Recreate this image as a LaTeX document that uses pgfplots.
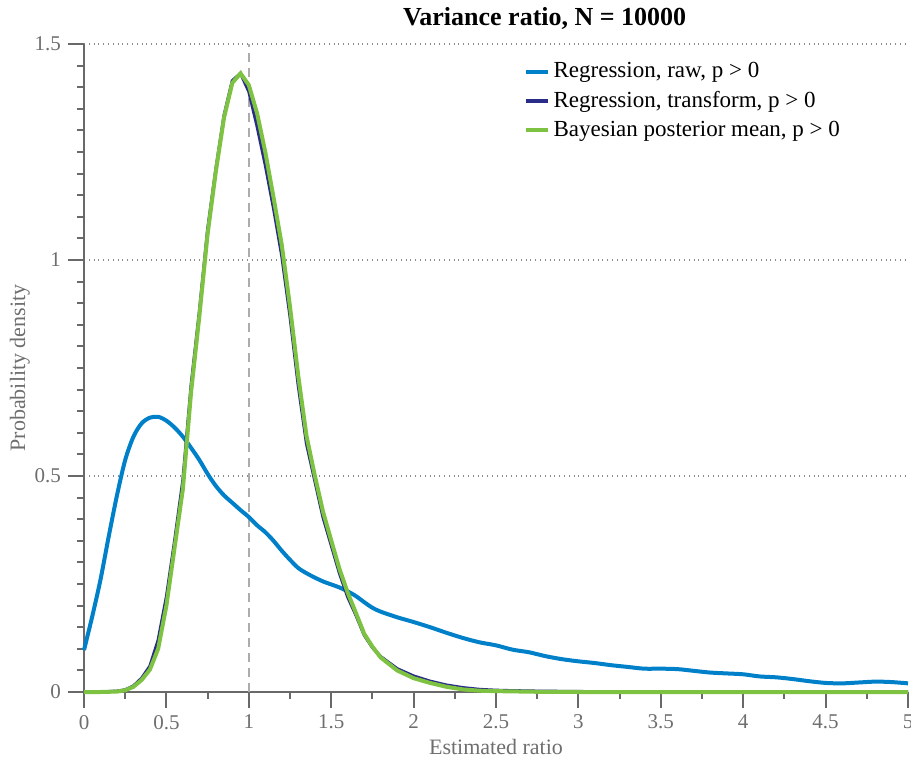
\documentclass[border=0pt]{standalone}
\usepackage{fontspec}
\setmainfont{Liberation Serif}
\usepackage{pgfplots}
\pgfplotsset{compat=1.18}
\usetikzlibrary{calc}
\definecolor{rawblue}{RGB}{0,128,200}
\definecolor{trnavy}{RGB}{42,45,135}
\definecolor{bayesgreen}{RGB}{125,194,64}
\definecolor{axgray}{RGB}{105,105,105}
\definecolor{txtgray}{RGB}{110,110,110}
\begin{document}
\begin{tikzpicture}
\begin{axis}[name=ax, scale only axis, width=412pt, height=324pt,
  xmin=0, xmax=5, ymin=0, ymax=1.5, clip=false,
  axis lines*=left,
  axis line style={axgray, line width=1pt},
  xtick={0,0.5,1,1.5,2,2.5,3,3.5,4,4.5,5},
  xticklabels={0,0.5,1,1.5,2,2.5,3,3.5,4,4.5,5},
  ytick={0,0.5,1,1.5},
  yticklabels={0,0.5,1,1.5},
  minor x tick num=1, minor y tick num=9,
  tick align=outside, major tick length=8pt, minor tick length=3.5pt,
  every tick/.style={axgray, line width=1pt},
  ymajorgrids, grid style={dotted, black!45, line width=0.6pt},
  tick label style={font=\fontsize{10.5}{12}\selectfont, text=txtgray},
  xlabel={Estimated ratio}, ylabel={Probability density},
  label style={font=\fontsize{11}{13}\selectfont, text=txtgray},
  xlabel style={at={(axis description cs:0.5,-0.0849)}, anchor=center},
  ylabel style={at={(axis description cs:-0.0777,0.5)}, anchor=center},
  legend style={draw=none, fill=none, at={(axis description cs:0.533,0.978)}, anchor=north west,
    font=\fontsize{11.5}{13}\selectfont, row sep=1.2pt, inner sep=0pt},
  legend cell align=left,
  legend image code/.code={\draw[#1] (0pt,0pt) -- (11pt,0pt);},
]
\addplot[gray!65, line width=1pt, dash pattern=on 4.5pt off 3pt, forget plot] coordinates {(1,0) (1,1.5)};
\addplot[rawblue, line width=2pt, smooth] coordinates {
(0,0.097) (0.05,0.175) (0.1,0.26) (0.15,0.36) (0.2,0.455) (0.25,0.537) (0.3,0.591) (0.35,0.622)
(0.4,0.635) (0.45,0.637) (0.5,0.628) (0.55,0.612) (0.6,0.591) (0.65,0.565) (0.7,0.537) (0.75,0.505)
(0.8,0.477) (0.85,0.455) (0.9,0.438) (0.95,0.421) (1.0,0.405) (1.05,0.386) (1.1,0.37) (1.15,0.35)
(1.2,0.327) (1.25,0.306) (1.3,0.287) (1.35,0.275) (1.4,0.265) (1.45,0.256) (1.5,0.249) (1.55,0.242)
(1.6,0.233) (1.65,0.222) (1.7,0.208) (1.75,0.195) (1.8,0.186) (1.9,0.173) (2.0,0.162) (2.1,0.15)
(2.2,0.137) (2.3,0.125) (2.4,0.115) (2.5,0.108) (2.6,0.098) (2.7,0.092) (2.8,0.083) (2.9,0.076)
(3.0,0.071) (3.1,0.067) (3.2,0.062) (3.3,0.058) (3.4,0.054) (3.5,0.054) (3.6,0.053) (3.7,0.049)
(3.8,0.045) (3.9,0.043) (4.0,0.041) (4.1,0.036) (4.2,0.034) (4.3,0.030) (4.4,0.025) (4.5,0.021)
(4.6,0.020) (4.7,0.022) (4.8,0.024) (4.9,0.023) (5.0,0.020)};
\addlegendentry{Regression, raw, p > 0}
\addplot[trnavy, line width=1.6pt] coordinates {
(0,0) (0.1,0) (0.2,0.002) (0.25,0.005) (0.3,0.014) (0.35,0.032) (0.4,0.06) (0.45,0.12) (0.5,0.22)
(0.55,0.35) (0.6,0.49) (0.65,0.71) (0.7,0.88) (0.75,1.07) (0.8,1.21) (0.85,1.335) (0.9,1.415)
(0.95,1.432) (1.0,1.39) (1.05,1.31) (1.1,1.22) (1.15,1.12) (1.2,1.01) (1.25,0.87) (1.3,0.71)
(1.35,0.575) (1.4,0.49) (1.45,0.405) (1.5,0.34) (1.55,0.275) (1.6,0.22) (1.65,0.178) (1.7,0.132)
(1.75,0.103) (1.8,0.082) (1.9,0.054) (2.0,0.037) (2.1,0.025) (2.2,0.016) (2.3,0.01) (2.4,0.006)
(2.5,0.004) (2.6,0.003) (2.75,0.002) (3.0,0.001) (3.5,0) (5,0)};
\addlegendentry{Regression, transform, p > 0}
\addplot[bayesgreen, line width=2pt] coordinates {
(0,0) (0.1,0) (0.2,0.001) (0.25,0.004) (0.3,0.012) (0.35,0.028) (0.4,0.052) (0.45,0.10) (0.5,0.2)
(0.55,0.335) (0.6,0.47) (0.65,0.695) (0.7,0.87) (0.75,1.06) (0.8,1.205) (0.85,1.33) (0.9,1.41)
(0.95,1.432) (1.0,1.405) (1.05,1.34) (1.1,1.25) (1.15,1.145) (1.2,1.035) (1.25,0.892) (1.3,0.732)
(1.35,0.593) (1.4,0.502) (1.45,0.418) (1.5,0.351) (1.55,0.285) (1.6,0.23) (1.65,0.183) (1.7,0.135)
(1.75,0.105) (1.8,0.08) (1.9,0.05) (2.0,0.032) (2.1,0.021) (2.2,0.012) (2.3,0.006) (2.4,0.003)
(2.5,0.002) (2.75,0.0005) (3.0,0) (5,0)};
\addlegendentry{Bayesian posterior mean, p > 0}
\node[font=\bfseries\fontsize{13}{15}\selectfont, anchor=center] at (axis description cs:0.559,1.040) {Variance ratio, N = 10000};
\end{axis}
\pgfresetboundingbox
\path[use as bounding box] ($(ax.south west)+(-42pt,-33pt)$) rectangle ($(ax.north east)+(1.5pt,22pt)$);
\end{tikzpicture}
\end{document}
